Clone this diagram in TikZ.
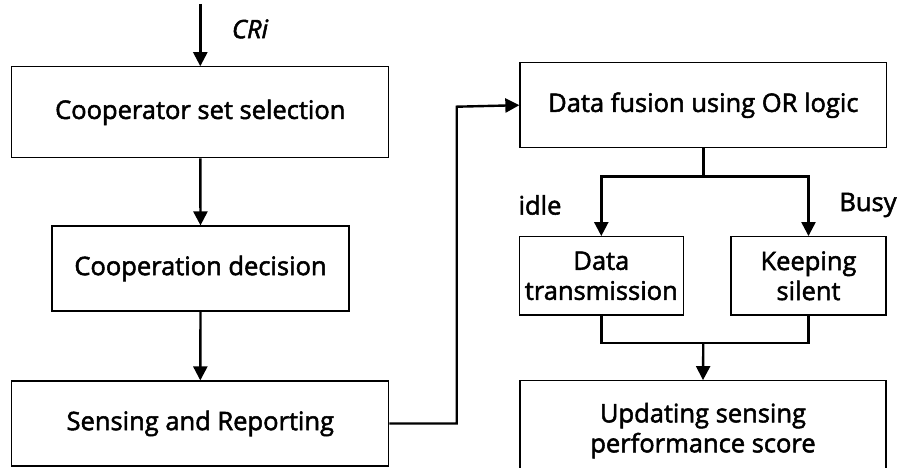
\documentclass[tikz,border=0pt]{standalone}
\usepackage{fontspec}
\setmainfont{Open Sans}[RawFeature={embolden=2}]
\usetikzlibrary{arrows.meta}
\begin{document}
\begin{tikzpicture}[x=1pt,y=-1pt,
  stepbox/.style={draw=black,line width=1.2pt,inner sep=0pt,align=center,
    font=\fontsize{25.5}{30}\selectfont},
  flow/.style={line width=2.4pt,-{Triangle[length=14pt,width=14pt]}},
  link/.style={line width=2.4pt},
  lbl/.style={inner sep=0pt,font=\fontsize{25.5}{30}\selectfont}]
\clip (0,0) rectangle (900,468);

% left column
\node[stepbox,minimum width=377pt,minimum height=91pt] (sel) at (200.3,112.3) {Cooperator set selection};
\node[stepbox,minimum width=297pt,minimum height=85pt] (dec) at (200.5,268.5) {Cooperation decision};
\node[stepbox,minimum width=377pt,minimum height=85pt] (sen) at (200.3,423.5) {Sensing and Reporting};

% right column
\node[stepbox,minimum width=366.7pt,minimum height=85pt] (fus) at (703.3,105.2) {Data fusion using OR logic};
\node[stepbox,minimum width=164pt,minimum height=78.3pt] (tx) at (601.3,275.8) {Data\\transmission};
\node[stepbox,minimum width=155pt,minimum height=78.3pt] (ks) at (808.5,275.8) {Keeping\\silent};
\node[stepbox,minimum width=366pt,minimum height=100pt] (upd) at (703,430.7) {Updating sensing\\performance score};

% labels
\coordinate (in) at (200.3,4);
\node[lbl,font=\fontsize{25.5}{30}\selectfont\itshape] (cri) at (250,29) {CRi};
\node[lbl] (idle) at (540,205) {idle};
\node[lbl] (busy) at (868,205) {Busy};

% connectors
\draw[flow] (in) -- (sel.north);
\draw[flow] (sel.south) -- (dec.north);
\draw[flow] (dec.south) -- (sen.north);
\draw[flow] (sen.east) -| (456.7,106.7) -- (fus.west);

\coordinate (split) at (703.3,176.7);
\draw[link] (fus.south) -- (split);
\draw[flow] (split) -| (tx.north);
\draw[flow] (split) -| (ks.north);

\coordinate (join) at (703.3,343);
\draw[link] (tx.south) |- (join);
\draw[link] (ks.south) |- (join);
\draw[flow] (join) -- (upd.north);
\end{tikzpicture}
\end{document}
